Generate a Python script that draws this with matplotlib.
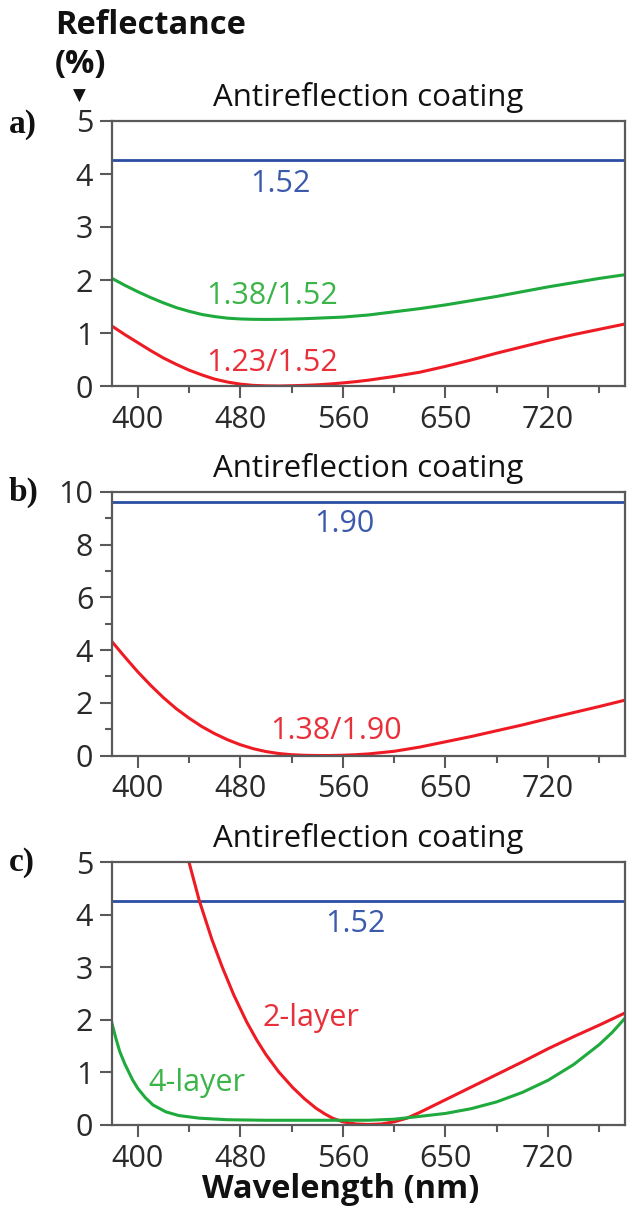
import matplotlib
matplotlib.use("Agg")
import matplotlib.pyplot as plt
from matplotlib.ticker import MultipleLocator, FixedLocator

plt.rcParams['font.family'] = ['Open Sans', 'DejaVu Sans']

# ---------------- data ----------------
x_ticks = [400, 480, 560, 640, 720]
x_tick_labels = ['400', '480', '560', '650', '720']
x_minor = [440, 520, 600, 680, 760]

# panel a
wl_a = [380, 390, 400, 410, 420, 430, 440, 450, 460, 470, 480, 490, 500, 510, 520,
        530, 540, 550, 560, 570, 580, 600, 620, 640, 660, 680, 700, 720, 740, 760, 780]
a_138_152 = [2.03, 1.90, 1.78, 1.67, 1.57, 1.48, 1.41, 1.35, 1.31, 1.28, 1.265, 1.258, 1.256,
             1.258, 1.263, 1.27, 1.28, 1.29, 1.30, 1.32, 1.34, 1.40, 1.46, 1.53, 1.61, 1.69,
             1.78, 1.87, 1.95, 2.03, 2.10]
a_123_152 = [1.13, 0.97, 0.82, 0.67, 0.53, 0.41, 0.30, 0.21, 0.13, 0.075, 0.035, 0.012, 0.003,
             0.0, 0.005, 0.012, 0.022, 0.038, 0.058, 0.082, 0.11, 0.18, 0.26, 0.37, 0.49, 0.62,
             0.74, 0.86, 0.97, 1.07, 1.17]
a_bare = 4.26

# panel b
wl_b = [380, 390, 400, 410, 420, 430, 440, 450, 460, 470, 480, 490, 500, 510, 520, 530,
        540, 550, 560, 570, 580, 600, 620, 640, 660, 680, 700, 720, 740, 760, 780]
b_138_190 = [4.32, 3.74, 3.18, 2.67, 2.20, 1.78, 1.42, 1.10, 0.83, 0.60, 0.41, 0.26, 0.15,
             0.075, 0.03, 0.008, 0.0, 0.0, 0.01, 0.03, 0.06, 0.16, 0.32, 0.52, 0.72, 0.94,
             1.16, 1.40, 1.63, 1.86, 2.10]
b_bare = 9.63

# panel c
wl_c_2 = [436, 440, 448, 458, 466, 475, 485, 493, 500, 510, 521, 530, 539, 546, 552, 560,
          570, 580, 590, 600, 610, 620, 630, 640, 660, 680, 700, 720, 740, 760, 780]
c_2layer = [5.38, 5.0, 4.27, 3.52, 3.0, 2.47, 1.96, 1.61, 1.34, 1.01, 0.71, 0.50, 0.32, 0.21,
            0.13, 0.06, 0.02, 0.01, 0.02, 0.06, 0.13, 0.24, 0.36, 0.48, 0.72, 0.96, 1.20,
            1.45, 1.68, 1.90, 2.13]
wl_c_4 = [380, 383, 386, 390, 396, 400, 406, 412, 422, 432, 448, 470, 500, 560, 580, 600,
          615, 640, 660, 680, 700, 720, 740, 760, 770, 780]
c_4layer = [1.93, 1.65, 1.40, 1.16, 0.86, 0.70, 0.52, 0.38, 0.25, 0.18, 0.13, 0.10, 0.09,
            0.09, 0.09, 0.11, 0.15, 0.22, 0.31, 0.44, 0.62, 0.85, 1.15, 1.53, 1.76, 2.03]
c_bare = 4.26

# ---------------- style ----------------
BLUE = '#2c4ea2'
BLUE_T = '#3c5aab'
GREEN = '#1eaa3c'
GREEN_T = '#3cb44a'
RED = '#ee1b24'
RED_T = '#e8303a'
SPINE = '#5a5a5a'
TXT = '#2a2a2a'
FS = 22
FS_T = 22.5
FS_B = 23.5

W, H = 640, 1217
fig = plt.figure(figsize=(W / 100, H / 100), dpi=100)

def rect(top_px, bot_px):
    left = 112 / W
    width = (625 - 112) / W
    return [left, 1 - bot_px / H, width, (bot_px - top_px) / H]

def style(ax, ymax, ymajor, yminor=None):
    ax.set_xlim(380, 780)
    ax.set_ylim(0, ymax)
    ax.xaxis.set_major_locator(FixedLocator(x_ticks))
    ax.set_xticklabels(x_tick_labels)
    ax.xaxis.set_minor_locator(FixedLocator(x_minor))
    ax.yaxis.set_major_locator(MultipleLocator(ymajor))
    if yminor:
        ax.yaxis.set_minor_locator(MultipleLocator(yminor))
    for s in ax.spines.values():
        s.set_color(SPINE)
        s.set_linewidth(1.6)
    ax.tick_params(which='major', direction='out', length=8.5, width=1.5, color=SPINE,
                   labelsize=FS, labelcolor=TXT, pad=5)
    ax.tick_params(which='minor', direction='out', length=5, width=1.5, color=SPINE)
    ax.tick_params(axis='x', which='both', top=False)
    ax.tick_params(axis='y', which='both', right=False)
    ax.text(0.5, 1 + 23 / 263, 'Antireflection coating', transform=ax.transAxes,
            ha='center', va='center', fontsize=FS_T, fontweight='medium', color='#111111')

LW = 2.2

# panel a
axa = fig.add_axes(rect(121, 386))
style(axa, 5, 1)
axa.axhline(a_bare, color=BLUE, lw=2.0)
axa.plot(wl_a, a_138_152, color=GREEN, lw=LW)
axa.plot(wl_a, a_123_152, color=RED, lw=LW)
axa.text(511, 3.66, '1.52', color=BLUE_T, fontsize=FS, ha='center', va='baseline')
axa.text(505, 1.54, '1.38/1.52', color=GREEN_T, fontsize=FS, ha='center', va='baseline')
axa.text(505, 0.29, '1.23/1.52', color=RED_T, fontsize=FS, ha='center', va='baseline')

# panel b
axb = fig.add_axes(rect(492, 755.5))
style(axb, 10, 2, 1)
axb.axhline(b_bare, color=BLUE, lw=2.0)
axb.plot(wl_b, b_138_190, color=RED, lw=LW)
axb.text(561, 8.49, '1.90', color=BLUE_T, fontsize=FS, ha='center', va='baseline')
axb.text(555, 0.64, '1.38/1.90', color=RED_T, fontsize=FS, ha='center', va='baseline')

# panel c
axc = fig.add_axes(rect(862, 1125))
style(axc, 5, 1)
axc.axhline(c_bare, color=BLUE, lw=2.0)
axc.plot(wl_c_2, c_2layer, color=RED, lw=LW)
axc.plot(wl_c_4, c_4layer, color=GREEN, lw=LW)
axc.text(570, 3.67, '1.52', color=BLUE_T, fontsize=FS, ha='center', va='baseline')
axc.text(535.5, 1.88, '2-layer', color=RED_T, fontsize=FS, ha='center', va='baseline')
axc.text(446, 0.65, '4-layer', color=GREEN_T, fontsize=FS, ha='center', va='baseline')
axc.text(0.446, -(1190 - 1125) / 263, 'Wavelength (nm)', transform=axc.transAxes,
         ha='center', va='center', fontsize=FS_B, fontweight='bold', color='#111111')

# left header
fig.text(55 / W, 1 - 25 / H, 'Reflectance', ha='left', va='center', fontsize=FS_B,
         fontweight='bold', color='#111111')
fig.text(55 / W, 1 - 64 / H, '(%)', ha='left', va='center', fontsize=FS_B,
         fontweight='bold', color='#111111')
fig.text(79 / W, 1 - 96 / H, '\u25bc', ha='center', va='center', fontsize=12,
         family='DejaVu Sans', color='#111111')

for lab, ypx in [('a)', 124), ('b)', 492), ('c)', 862)]:
    fig.text(9 / W, 1 - ypx / H, lab, ha='left', va='center', fontsize=24,
             fontweight='bold', family='Liberation Serif', color='#111111')

fig.savefig('out.png', dpi=100)
